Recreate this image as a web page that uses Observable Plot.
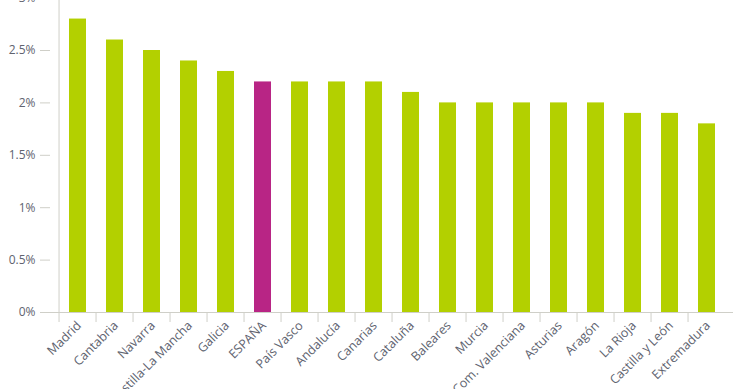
<!DOCTYPE html>
<html><head><meta charset="utf-8">
<script src="https://cdn.jsdelivr.net/npm/d3@7"></script>
<script src="https://cdn.jsdelivr.net/npm/@observablehq/plot@0.6"></script>
<style>body{margin:0;background:#fff}</style>
</head><body><div id="chart"></div>
<script>
const regions = ["Madrid","Cantabria","Navarra","Castilla-La Mancha","Galicia","ESPAÑA","País Vasco","Andalucía","Canarias","Cataluña","Baleares","Murcia","Com. Valenciana","Asturias","Aragón","La Rioja","Castilla y León","Extremadura"];
const values = [2.8,2.6,2.5,2.4,2.3,2.2,2.2,2.2,2.2,2.1,2.0,2.0,2.0,2.0,2.0,1.9,1.9,1.8];
const highlight = "ESPAÑA";
const yTicks = [0,0.5,1,1.5,2,2.5,3];
const green = "#b3d000", magenta = "#b82585";
const data = regions.map((r,i)=>({region:r, value:values[i], kind: r===highlight?"hl":"other"}));
const step = (733-50.5)/regions.length;
const chart = Plot.plot({
  width:740, height:389, marginLeft:50, marginRight:7, marginTop:0, marginBottom:77,
  style:{fontFamily:"'Open Sans', sans-serif", fontSize:"11px", background:"#fff"},
  x:{domain:regions, range:[50.5,733], paddingInner:0.54, paddingOuter:0.27, axis:null},
  y:{domain:[0,3], range:[312,-2.4], axis:null},
  color:{domain:["other","hl"], range:[green, magenta]},
  marks:[
    Plot.barY(data,{x:"region", y:"value", fill:"kind"}),
    Plot.ruleY([0],{stroke:"#cfcfc8"}),
    Plot.ruleX([regions[0]],{dx:-step/2, y1:0, y2:3, stroke:"#cfcfc8"}),
    Plot.axisX({tickSize:10, tickFormat:()=>"", dx:-step/2, stroke:"#cfcfc8", label:null}),
    Plot.axisX({tickSize:0, tickPadding:11, tickRotate:-45, dx:1, fill:"#60636f", fontSize:12.5, label:null}),
    Plot.axisY({ticks:yTicks, tickFormat:d=>d+"%", tickSize:10, tickPadding:5, stroke:"#cfcfc8", fill:"#60636f", fontSize:12, label:null})
  ]
});
document.getElementById("chart").appendChild(chart);
</script>
</body></html>
